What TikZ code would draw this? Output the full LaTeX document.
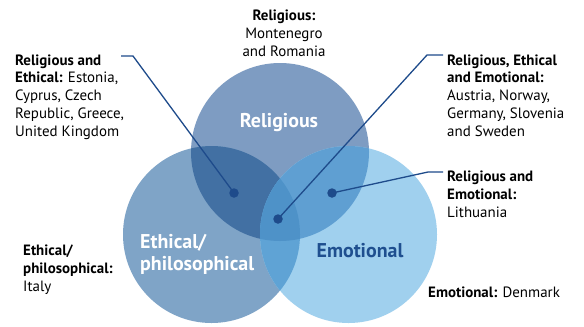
\documentclass[tikz,border=0pt]{standalone}
\usepackage{fontspec}
\setmainfont{PT Sans}
\definecolor{relcol}{HTML}{7E9CC2}
\definecolor{ethcol}{HTML}{7FA4C7}
\definecolor{emocol}{HTML}{A0D0EE}
\definecolor{relethcol}{HTML}{4270A3}
\definecolor{relemocol}{HTML}{5F9FD2}
\definecolor{ethemocol}{HTML}{5FA3D5}
\definecolor{allcol}{HTML}{4E92C8}
\definecolor{linkblue}{HTML}{1E4B8B}
\definecolor{emotext}{HTML}{1F4F8F}
\begin{document}
\begin{tikzpicture}[x=1bp,y=-1bp,
  caption/.style={font=\fontsize{15}{17.8}\selectfont, align=left, inner sep=0, anchor=base west, text=black},
  setname/.style={font=\fontsize{20}{22}\selectfont\bfseries, inner sep=0, anchor=base, text=white},
  leader/.style={draw=linkblue, line width=1.3bp},
  dotmark/.style={circle, fill=linkblue, inner sep=0, minimum size=9.5bp}]
\useasboundingbox[fill=white] (0,0) rectangle (584,326);

% the three sets
\fill[relcol] (280,152) circle[radius=89bp];
\fill[ethcol] (211.5,234.5) circle[radius=88.5bp];
\fill[emocol] (348.5,234.5) circle[radius=88.5bp];
\begin{scope}
  \clip (280,152) circle[radius=89bp];
  \fill[relethcol] (211.5,234.5) circle[radius=88.5bp];
  \fill[relemocol] (348.5,234.5) circle[radius=88.5bp];
\end{scope}
\begin{scope}
  \clip (211.5,234.5) circle[radius=88.5bp];
  \fill[ethemocol] (348.5,234.5) circle[radius=88.5bp];
  \clip (280,152) circle[radius=89bp];
  \fill[allcol] (348.5,234.5) circle[radius=88.5bp];
\end{scope}

% set names (multi-line nodes sit on their last baseline)
\node[setname] (relname) at (279,127) {Religious};
\node[setname, align=left, anchor=base west] (ethname) at (140,270) {Ethical/\\philosophical};
\node[setname, text=emotext] (emoname) at (360,257) {Emotional};

% markers for the overlaps
\node[dotmark] (re) at (234,193) {};
\node[dotmark] (rem) at (278,219) {};
\node[dotmark] (rm) at (332,193) {};

% leader lines
\coordinate (reend) at (121,56);
\coordinate (remend) at (443,55);
\coordinate (rmend) at (443,172);
\draw[leader] (re.center) -- (133,56) -- (reend);
\draw[leader] (rem.center) -- (427,55) -- (remend);
\draw[leader] (rm.center) -- (428,172) -- (rmend);

% captions
\node[caption, align=center, anchor=base] (relonly) at (284,56)
  {\textbf{Religious:}\\Montenegro\\and Romania};
\node[caption] (relethtxt) at (15,136)
  {\textbf{Religious and}\\\textbf{Ethical:} Estonia,\\Cyprus, Czech\\Republic, Greece,\\United Kingdom};
\node[caption] (alltxt) at (447,136)
  {\textbf{Religious, Ethical}\\\textbf{and Emotional:}\\Austria, Norway,\\Germany, Slovenia\\and Sweden};
\node[caption] (relemotxt) at (447,217)
  {\textbf{Religious and}\\\textbf{Emotional:}\\Lithuania};
\node[caption] (ethtxt) at (23,291)
  {\textbf{Ethical/}\\\textbf{philosophical:}\\Italy};
\node[caption] (emotxt) at (428,297) {\textbf{Emotional:} Denmark};
\end{tikzpicture}
\end{document}
